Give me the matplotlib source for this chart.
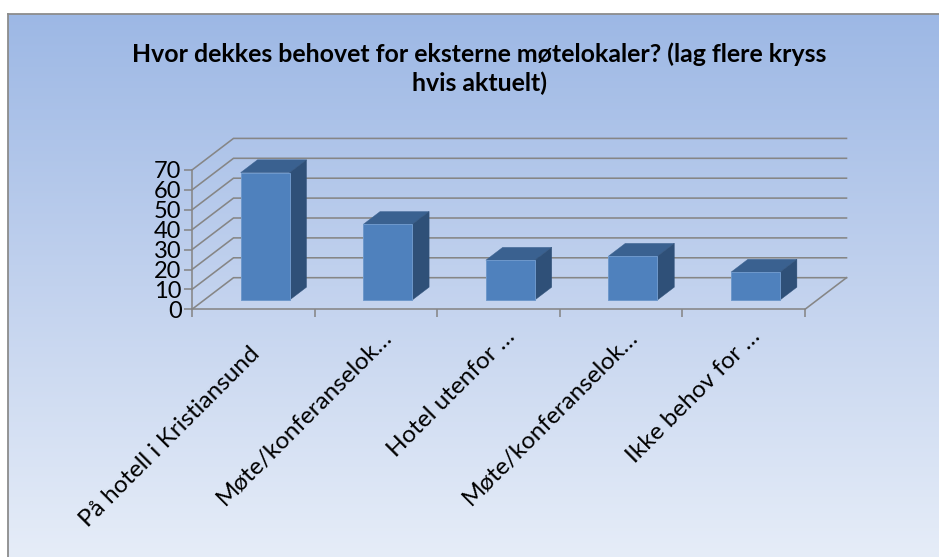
import numpy as np
import matplotlib
matplotlib.use("Agg")
import matplotlib.pyplot as plt
from matplotlib.colors import LinearSegmentedColormap
from matplotlib.patches import Polygon

# Survey answers
title_text = "Hvor dekkes behovet for eksterne møtelokaler? (lag flere kryss\nhvis aktuelt)"
categories = ["På hotell i Kristiansund", "Møte/konferanselok…", "Hotel utenfor …",
              "Møte/konferanselok…", "Ikke behov for …"]
values = [64, 38, 20, 22, 14]
y_ticks = [0, 10, 20, 30, 40, 50, 60, 70]

W, H = 939, 557
GRID = "#868686"
FRONT, SIDE, TOP, EDGE = "#4f81bd", "#2f5078", "#3a6190", "#6e98cb"

plt.rcParams["font.family"] = ["Lato", "DejaVu Sans"]
fig = plt.figure(figsize=(W / 100, H / 100), dpi=100, facecolor="white")


def box(left, top, right, bottom):
    """Figure-fraction rectangle from pixel edges measured from the top left."""
    return [left / W, 1 - bottom / H, (right - left) / W, (bottom - top) / H]


# Chart area with its vertical gradient
bg = fig.add_axes(box(8, 14, W + 2, H + 2), zorder=0)
cmap = LinearSegmentedColormap.from_list("panel", ["#9db8e5", "#c2d2ee", "#e6edf8"])
bg.imshow(np.linspace(0, 1, 256)[:, None], cmap=cmap, aspect="auto", extent=(0, 1, 0, 1))
bg.set_xticks([])
bg.set_yticks([])
for name, spine in bg.spines.items():
    spine.set_visible(name in ("left", "top"))
    spine.set_color("#8c8c8c")
    spine.set_linewidth(1.3)

# Front plane of the plot; depth is handled as a shear of the data coordinates
ax = fig.add_axes(box(192, 170, 805, 309.3), zorder=1)
ax.patch.set_visible(False)
n = len(categories)
ax.set_xlim(0, n)
ax.set_ylim(0, 70)
units_x = n / (805 - 192)
units_y = 70 / (309.3 - 170)
DEPTH_X = 41.5 * units_x
DEPTH_Y = 31.6 * units_y


def project(x, y, depth):
    return x + depth * DEPTH_X, y + depth * DEPTH_Y


# Back wall gridlines, side wall lines and the right floor edge
for tick in y_ticks:
    x0, y0 = project(0, tick, 0)
    x1, y1 = project(0, tick, 1)
    x2, y2 = project(n, tick, 1)
    ax.plot([x0, x1, x2], [y0, y1, y2], color=GRID, lw=1.15, clip_on=False,
            solid_joinstyle="miter", zorder=1)
x0, y0 = project(n, 0, 0)
x1, y1 = project(n, 0, 1)
ax.plot([x0, x1], [y0, y1], color=GRID, lw=1.15, clip_on=False, zorder=1)

# Bars: front face plus sheared top and side faces
BAR_WIDTH = 0.4
NEAR, FAR = 0.295, 0.70
centres = np.arange(n) + 0.5
near_x, near_y = project(centres - BAR_WIDTH / 2, 0, NEAR)
near_x = near_x - 0.003
ax.bar(near_x, values, width=BAR_WIDTH, bottom=near_y, align="edge", color=FRONT,
       edgecolor=EDGE, linewidth=0.7, clip_on=False, zorder=3)
for left, value in zip(near_x, values):
    right = left + BAR_WIDTH
    shift_x = (FAR - NEAR) * DEPTH_X
    shift_y = (FAR - NEAR) * DEPTH_Y
    top = near_y + value
    ax.add_patch(Polygon([(left, top), (right, top), (right + shift_x, top + shift_y),
                          (left + shift_x, top + shift_y)],
                         facecolor=TOP, edgecolor=TOP, lw=0.3, clip_on=False, zorder=2))
    ax.add_patch(Polygon([(right, near_y), (right + shift_x, near_y + shift_y),
                          (right + shift_x, top + shift_y), (right, top)],
                         facecolor=SIDE, edgecolor=SIDE, lw=0.3, clip_on=False, zorder=2))

# Axes and labels
for name, spine in ax.spines.items():
    spine.set_visible(name in ("left", "bottom"))
    spine.set_color(GRID)
    spine.set_linewidth(1.15)
ax.set_yticks(y_ticks)
ax.set_xticks(np.arange(n + 1))
ax.set_xticklabels([])
ax.tick_params(axis="both", which="major", color=GRID, width=1.15, length=6)
ax.tick_params(axis="y", labelsize=17, pad=1.5)

# Category labels end near their tick centres; shortened ones reach a little further
for centre, label in zip(centres, categories):
    shortened = label.endswith("…")
    offset = (13, -24) if shortened else (3, -41)
    ax.annotate(label, xy=(centre, 0), xycoords="data", xytext=offset,
                textcoords="offset pixels", rotation=45, rotation_mode="anchor",
                ha="right", va="center", fontsize=17.5, annotation_clip=False)

fig.text(479 / W, 1 - 69 / H, title_text, ha="center", va="center", fontsize=17.9,
         fontweight="bold", linespacing=1.28, color="black")

fig.savefig("out.png", dpi=100)
